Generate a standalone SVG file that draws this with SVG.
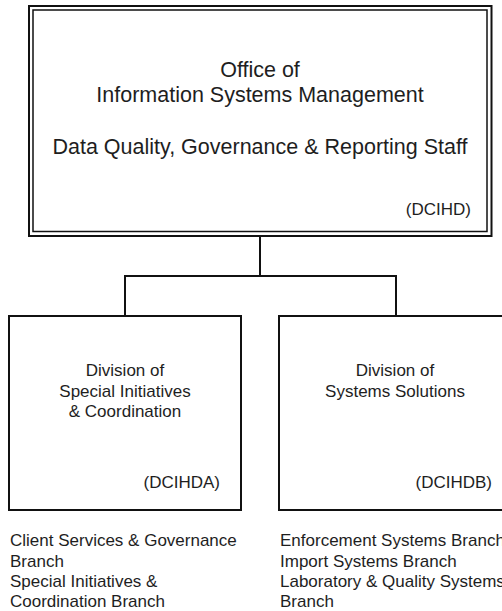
<svg xmlns="http://www.w3.org/2000/svg" width="502" height="611" viewBox="0 0 502 611">
<style>
.t{font-family:"Liberation Sans",Arial,sans-serif;fill:#1e1e1e}
.big{font-size:21.5px}
.med{font-size:17px}
.box{fill:#fff;stroke:#111;stroke-width:2}
.con{fill:none;stroke:#111;stroke-width:2}
</style>
<rect width="502" height="611" fill="#fff"/>
<g id="connectors">
<path class="con" d="M260,236 V276 M125,316 V276 H396 V316"/>
</g>
<g id="office">
<rect x="29" y="6" width="462.5" height="230" fill="#fff" stroke="#111" stroke-width="2"/>
<rect x="33" y="10" width="454" height="221.5" fill="none" stroke="#111" stroke-width="1.5"/>
<text class="t big" x="260" y="77" text-anchor="middle">Office of</text>
<text class="t big" x="260" y="101.5" text-anchor="middle">Information Systems Management</text>
<text class="t big" x="260" y="154" text-anchor="middle">Data Quality, Governance &amp; Reporting Staff</text>
<text class="t med" x="471" y="215" text-anchor="end">(DCIHD)</text>
</g>
<g id="dcihda">
<rect class="box" x="9" y="316" width="232" height="194"/>
<text class="t med" x="125" y="376" text-anchor="middle">Division of</text>
<text class="t med" x="125" y="396.5" text-anchor="middle">Special Initiatives</text>
<text class="t med" x="125" y="416.5" text-anchor="middle">&amp; Coordination</text>
<text class="t med" x="220" y="488" text-anchor="end">(DCIHDA)</text>
</g>
<g id="dcihdb">
<rect class="box" x="279" y="316" width="240" height="194"/>
<text class="t med" x="395" y="376" text-anchor="middle">Division of</text>
<text class="t med" x="395" y="396.5" text-anchor="middle">Systems Solutions</text>
<text class="t med" x="492" y="488" text-anchor="end">(DCIHDB)</text>
</g>
<g id="branches-a">
<text class="t med" x="10" y="546">Client Services &amp; Governance</text>
<text class="t med" x="10" y="566.5">Branch</text>
<text class="t med" x="10" y="586.5">Special Initiatives &amp;</text>
<text class="t med" x="10" y="607">Coordination Branch</text>
</g>
<g id="branches-b">
<text class="t med" x="280" y="546">Enforcement Systems Branch</text>
<text class="t med" x="280" y="566.5">Import Systems Branch</text>
<text class="t med" x="280" y="586.5">Laboratory &amp; Quality Systems</text>
<text class="t med" x="280" y="607">Branch</text>
</g>
</svg>
